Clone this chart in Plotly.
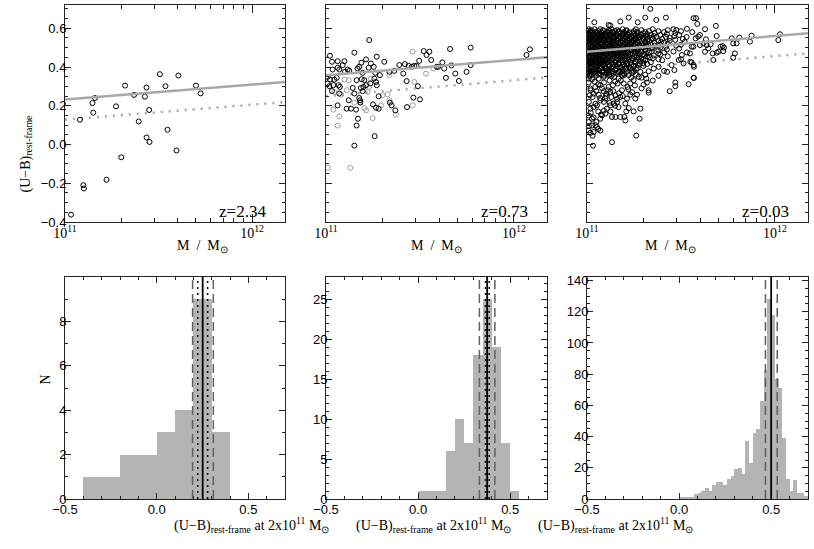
import plotly.graph_objects as go

# ---------------- data ----------------
# top-left panel, z=2.34 : log10(M/Msun), (U-B)
tl_logm = [11.032, 11.080, 11.098, 11.101, 11.147, 11.151, 11.160, 11.222, 11.273, 11.301,
           11.321, 11.369, 11.394, 11.427, 11.436, 11.436, 11.450, 11.452, 11.507, 11.537,
           11.548, 11.596, 11.606, 11.700, 11.725]
tl_ub = [-0.362, 0.128, -0.210, -0.227, 0.214, 0.164, 0.240, -0.182, 0.197, -0.066,
         0.304, 0.256, 0.119, 0.247, 0.294, 0.036, 0.178, 0.013, 0.363, 0.301,
         0.076, -0.031, 0.356, 0.304, 0.264]

# top-middle panel, z=0.73 (black symbols)
tm_logm = [11.230, 11.021, 11.032, 11.062, 11.098, 11.151, 11.270, 11.310, 11.213, 11.188,
           11.177, 11.168, 11.227, 11.254, 11.239, 11.089, 11.062, 11.071, 11.115, 11.124,
           11.101, 11.035, 11.195, 11.262, 11.287, 11.337, 11.363, 11.390, 11.420, 11.440,
           11.456, 11.470, 11.482, 11.411, 11.496, 11.520, 11.535, 11.550, 11.560, 11.009,
           11.021, 11.044, 11.057, 11.009, 11.018, 11.039, 11.067, 11.074, 11.032, 11.071,
           11.142, 11.151, 11.163, 11.190, 11.199, 11.213, 11.236, 11.257, 11.266, 11.270,
           11.204, 11.186, 11.177, 11.181, 11.183, 11.280, 11.195, 11.429, 11.489, 11.465,
           11.500, 11.340, 11.349, 11.369, 11.431, 11.062, 11.110, 11.133, 11.121, 11.160,
           11.250, 11.266, 11.280, 11.170, 11.163, 11.259, 11.151, 11.660, 11.770, 11.619,
           11.589, 11.598, 11.629, 11.668, 11.770, 11.688, 11.748, 11.638, 11.707, 12.067,
           12.085]
tm_ub = [0.539, 0.458, 0.427, 0.430, 0.430, 0.474, 0.453, 0.427, 0.439, 0.422,
         0.401, 0.392, 0.396, 0.401, 0.418, 0.410, 0.396, 0.387, 0.387, 0.380,
         0.375, 0.387, 0.370, 0.370, 0.358, 0.375, 0.380, 0.410, 0.415, 0.406,
         0.401, 0.406, 0.406, 0.366, 0.432, 0.482, 0.462, 0.479, 0.436, 0.349,
         0.335, 0.335, 0.344, 0.315, 0.301, 0.306, 0.306, 0.297, 0.276, 0.263,
         0.292, 0.263, 0.332, 0.337, 0.297, 0.306, 0.315, 0.340, 0.323, 0.306,
         0.332, 0.292, 0.240, 0.228, 0.216, 0.249, 0.275, 0.327, 0.301, 0.242,
         0.233, 0.216, 0.202, 0.176, 0.193, 0.202, 0.185, 0.185, 0.228, 0.180,
         0.207, 0.190, 0.185, 0.133, 0.098, 0.043, -0.006, 0.493, 0.500, 0.424,
         0.401, 0.401, 0.392, 0.408, 0.410, 0.366, 0.375, 0.344, 0.328, 0.462,
         0.491]
# top-middle panel, grey symbols
tm_grey_logm = [11.461, 11.532, 11.571, 11.337, 11.098, 11.121, 11.044, 11.080, 11.110, 11.151,
                11.181, 11.222, 11.230, 11.239, 11.301, 11.328, 11.337, 11.039, 11.071, 11.062,
                11.213, 11.248, 11.372, 11.461, 11.470, 11.009, 11.129, 11.293, 11.204]
tm_grey_ub = [0.479, 0.366, 0.392, 0.358, 0.335, 0.332, 0.271, 0.257, 0.280, 0.216,
              0.219, 0.271, 0.297, 0.340, 0.254, 0.259, 0.228, 0.180, 0.145, 0.098,
              0.176, 0.136, 0.154, 0.202, 0.323, -0.121, -0.121, 0.202, 0.188]

# top-right panel, z=0.03 : sparse points
tr_logm = [11.567, 11.541, 11.470, 11.470, 11.440, 11.328, 11.328, 11.319, 11.301, 11.316,
           11.328, 11.355, 11.381, 11.426, 11.465, 11.488, 11.514, 11.550, 11.567, 11.532,
           11.505, 11.284, 11.275, 11.248, 11.230, 11.230, 11.266, 11.257, 11.284, 11.248,
           11.222, 11.209, 11.199, 11.204, 11.177, 11.151, 11.133, 11.280, 11.262, 11.133,
           11.032, 11.071, 11.053, 11.035, 11.018, 11.009, 11.027, 11.050, 11.071, 11.080,
           11.098, 11.106, 11.124, 11.160, 11.177, 11.213, 11.204, 11.168, 11.142, 11.186,
           11.151, 11.124, 11.098, 11.071, 11.053, 11.035, 11.018, 11.009, 11.027, 11.009,
           11.115, 11.071, 11.044, 11.018, 11.014, 11.035, 11.062, 11.089, 11.103, 11.138,
           11.163, 11.195, 11.216, 11.168, 11.145, 11.115, 11.089, 11.062, 11.027, 11.009,
           11.014, 11.044, 11.080, 11.106, 11.133, 11.168, 11.195, 11.222, 11.248, 11.230,
           11.204,
           11.337, 11.039, 11.222, 11.310, 11.369, 11.420, 11.270, 11.177, 11.115, 11.124,
           11.567, 11.475, 11.532,
           11.580, 11.587, 11.628, 11.686, 11.578, 11.592, 11.601, 11.633, 11.690, 11.770,
           11.810, 11.876, 11.867, 11.778, 11.796, 12.018, 12.027, 11.722, 11.729, 11.711,
           11.628, 11.669, 11.690, 11.699, 11.725, 11.787, 11.778, 11.672, 11.569, 11.569,
           11.557, 11.566, 11.601, 11.619, 11.637, 11.658, 11.645, 11.548, 11.557,
           11.010, 11.040, 11.060, 11.090, 11.120, 11.150, 11.180, 11.020, 11.050, 11.080,
           11.110, 11.140, 11.170, 11.030, 11.070, 11.100, 11.130, 11.160, 11.010, 11.045,
           11.090, 11.120, 11.150, 11.020, 11.060, 11.090, 11.125, 11.035, 11.075, 11.010,
           11.045, 11.060, 11.030, 11.200, 11.235, 11.260, 11.290, 11.255, 11.220, 11.190,
           11.240, 11.290, 11.350, 11.380, 11.310, 11.410, 11.450, 11.500]
tr_ub = [0.344, 0.311, 0.320, 0.301, 0.275, 0.280, 0.268, 0.320, 0.309, 0.340,
         0.378, 0.392, 0.401, 0.375, 0.384, 0.436, 0.418, 0.427, 0.410, 0.475,
         0.462, 0.375, 0.349, 0.332, 0.315, 0.257, 0.257, 0.237, 0.185, 0.171,
         0.188, 0.171, 0.142, 0.124, 0.142, 0.142, 0.142, 0.133, 0.046, 0.012,
         -0.006, 0.072, 0.090, 0.064, 0.060, 0.072, 0.098, 0.116, 0.133, 0.150,
         0.159, 0.185, 0.202, 0.219, 0.245, 0.237, 0.211, 0.193, 0.211, 0.280,
         0.254, 0.271, 0.237, 0.228, 0.202, 0.193, 0.185, 0.150, 0.133, 0.116,
         0.297, 0.306, 0.297, 0.289, 0.254, 0.263, 0.257, 0.275, 0.263, 0.306,
         0.315, 0.315, 0.297, 0.340, 0.349, 0.358, 0.349, 0.340, 0.337, 0.320,
         0.354, 0.366, 0.375, 0.384, 0.378, 0.375, 0.366, 0.358, 0.375, 0.392,
         0.392,
         0.700, 0.631, 0.655, 0.655, 0.643, 0.655, 0.631, 0.635, 0.617, 0.614,
         0.652, 0.591, 0.597,
         0.652, 0.622, 0.595, 0.612, 0.548, 0.557, 0.565, 0.543, 0.560, 0.548,
         0.552, 0.562, 0.531, 0.522, 0.522, 0.539, 0.569, 0.508, 0.500, 0.505,
         0.479, 0.470, 0.474, 0.479, 0.482, 0.470, 0.448, 0.436, 0.401, 0.344,
         0.505, 0.505, 0.513, 0.522, 0.513, 0.517, 0.496, 0.470, 0.424,
         0.340, 0.325, 0.310, 0.320, 0.330, 0.325, 0.330, 0.280, 0.275, 0.290,
         0.280, 0.275, 0.265, 0.245, 0.240, 0.250, 0.245, 0.235, 0.220, 0.210,
         0.220, 0.215, 0.200, 0.165, 0.170, 0.175, 0.170, 0.140, 0.155, 0.095,
         0.100, 0.080, 0.045, 0.360, 0.345, 0.360, 0.345, 0.305, 0.285, 0.250,
         0.270, 0.290, 0.330, 0.355, 0.360, 0.380, 0.410, 0.440]

# top-right panel : the crowded red sequence, row by row
tr_row_ub = [0.595, 0.590, 0.585, 0.580, 0.575, 0.570, 0.565, 0.560, 0.555, 0.550,
             0.545, 0.540, 0.535, 0.530, 0.525, 0.520, 0.515, 0.510, 0.505, 0.500,
             0.495, 0.490, 0.485, 0.480, 0.475, 0.470, 0.465, 0.460, 0.455, 0.450,
             0.445, 0.440, 0.435, 0.430, 0.425, 0.420, 0.415, 0.410, 0.405, 0.400,
             0.395, 0.390, 0.385, 0.380, 0.375, 0.370, 0.365, 0.360, 0.355]
tr_row_logm = [
    [11.01, 11.04, 11.07, 11.13, 11.19, 11.26, 11.35, 11.46],
    [11.02, 11.085, 11.115, 11.16, 11.21, 11.29, 11.43],
    [11.00, 11.03, 11.06, 11.09, 11.12, 11.15, 11.17, 11.21, 11.25, 11.33, 11.38, 11.50],
    [11.015, 11.045, 11.075, 11.105, 11.135, 11.165, 11.195, 11.225, 11.265, 11.31, 11.41, 11.56],
    [11.02, 11.05, 11.08, 11.11, 11.14, 11.18, 11.20, 11.24, 11.27, 11.30, 11.36, 11.47],
    [11.005, 11.035, 11.065, 11.095, 11.125, 11.155, 11.215, 11.25, 11.285, 11.32, 11.425],
    [11.00, 11.03, 11.06, 11.09, 11.12, 11.16, 11.19, 11.22, 11.26, 11.29, 11.34, 11.39, 11.49],
    [11.02, 11.05, 11.08, 11.105, 11.14, 11.175, 11.205, 11.235, 11.27, 11.31, 11.355, 11.465],
    [11.01, 11.04, 11.07, 11.10, 11.13, 11.15, 11.18, 11.21, 11.24, 11.28, 11.32, 11.37, 11.42, 11.53],
    [11.005, 11.03, 11.06, 11.09, 11.12, 11.165, 11.195, 11.225, 11.26, 11.30, 11.345, 11.44],
    [11.00, 11.02, 11.05, 11.08, 11.11, 11.14, 11.17, 11.20, 11.23, 11.26, 11.30, 11.35, 11.40, 11.51],
    [11.015, 11.04, 11.07, 11.095, 11.13, 11.155, 11.185, 11.215, 11.245, 11.275, 11.32, 11.47],
    [11.01, 11.03, 11.06, 11.09, 11.12, 11.16, 11.19, 11.22, 11.25, 11.29, 11.33, 11.38, 11.44],
    [11.005, 11.025, 11.055, 11.08, 11.11, 11.14, 11.175, 11.205, 11.235, 11.265, 11.31, 11.395, 11.52],
    [11.00, 11.04, 11.07, 11.10, 11.13, 11.15, 11.18, 11.21, 11.24, 11.27, 11.31, 11.36, 11.41],
    [11.015, 11.045, 11.075, 11.095, 11.125, 11.165, 11.195, 11.225, 11.255, 11.29, 11.325, 11.43],
    [11.02, 11.05, 11.08, 11.11, 11.14, 11.17, 11.20, 11.23, 11.26, 11.30, 11.34, 11.39, 11.50],
    [11.005, 11.03, 11.06, 11.09, 11.12, 11.15, 11.185, 11.215, 11.245, 11.28, 11.315, 11.36, 11.475],
    [11.00, 11.03, 11.06, 11.09, 11.12, 11.16, 11.19, 11.22, 11.28, 11.32, 11.42],
    [11.02, 11.045, 11.075, 11.105, 11.135, 11.17, 11.205, 11.235, 11.265, 11.30, 11.345, 11.39],
    [11.01, 11.04, 11.07, 11.10, 11.13, 11.15, 11.18, 11.21, 11.25, 11.29, 11.35, 11.49],
    [11.005, 11.03, 11.055, 11.085, 11.115, 11.145, 11.175, 11.195, 11.23, 11.265, 11.31, 11.425],
    [11.00, 11.02, 11.05, 11.08, 11.11, 11.14, 11.17, 11.20, 11.24, 11.27, 11.31, 11.38],
    [11.015, 11.04, 11.07, 11.095, 11.125, 11.155, 11.185, 11.215, 11.255, 11.29, 11.345, 11.46],
    [11.01, 11.03, 11.06, 11.09, 11.12, 11.16, 11.19, 11.22, 11.26, 11.33, 11.41],
    [11.005, 11.025, 11.05, 11.08, 11.105, 11.14, 11.17, 11.205, 11.245, 11.27, 11.315, 11.38],
    [11.00, 11.04, 11.07, 11.10, 11.13, 11.15, 11.18, 11.23, 11.28, 11.30, 11.39],
    [11.015, 11.045, 11.065, 11.095, 11.125, 11.16, 11.19, 11.215, 11.265, 11.305, 11.355],
    [11.02, 11.05, 11.08, 11.11, 11.14, 11.17, 11.20, 11.25, 11.32, 11.43],
    [11.005, 11.035, 11.055, 11.085, 11.115, 11.145, 11.185, 11.225, 11.275, 11.335],
    [11.00, 11.03, 11.06, 11.09, 11.12, 11.16, 11.21, 11.24, 11.29, 11.35],
    [11.02, 11.045, 11.075, 11.105, 11.135, 11.165, 11.195, 11.245, 11.30, 11.38],
    [11.01, 11.04, 11.07, 11.10, 11.13, 11.18, 11.22, 11.27, 11.31, 11.40],
    [11.005, 11.03, 11.06, 11.09, 11.12, 11.155, 11.205, 11.255, 11.285],
    [11.00, 11.02, 11.05, 11.08, 11.11, 11.15, 11.19, 11.23, 11.26, 11.34],
    [11.015, 11.045, 11.07, 11.10, 11.13, 11.17, 11.215, 11.30],
    [11.01, 11.03, 11.06, 11.09, 11.14, 11.17, 11.21, 11.28, 11.32],
    [11.005, 11.025, 11.055, 11.085, 11.115, 11.15, 11.19, 11.235, 11.27],
    [11.00, 11.04, 11.07, 11.12, 11.16, 11.20, 11.25, 11.30],
    [11.02, 11.05, 11.095, 11.14, 11.18, 11.225],
    [11.02, 11.05, 11.08, 11.10, 11.13, 11.18, 11.23, 11.27],
    [11.01, 11.035, 11.07, 11.12, 11.155, 11.21, 11.26],
    [11.00, 11.03, 11.06, 11.11, 11.15, 11.19, 11.24],
    [11.02, 11.05, 11.09, 11.135, 11.175],
    [11.01, 11.04, 11.08, 11.12, 11.17, 11.21],
    [11.005, 11.035, 11.065, 11.115, 11.16, 11.24],
    [11.00, 11.02, 11.06, 11.10, 11.14],
    [11.025, 11.075, 11.12, 11.185],
    [11.01, 11.05, 11.09, 11.13, 11.19],
]

# fitted colour-mass relations (values at the two ends of the mass axis)
fit_logm = [11.0, 12.176]
fit_solid = [[0.232, 0.323], [0.358, 0.450], [0.479, 0.574]]
fit_dotted = [[0.128, 0.219], [0.250, 0.346], [0.378, 0.470]]
z_labels = ["z=2.34", "z=0.73", "z=0.03"]

# histograms of (U-B) at 2x10^11 Msun
bl_edges = [-0.4, -0.2, 0.0, 0.1, 0.2, 0.3, 0.4]
bl_counts = [1, 2, 3, 4, 9, 3]
bm_edges = [0.0, 0.15, 0.20, 0.25, 0.30, 0.35, 0.40, 0.45, 0.50, 0.55]
bm_counts = [1, 6, 10, 7, 18, 25, 19, 7, 1]
br_edges = [0.00, 0.02, 0.04, 0.06, 0.08, 0.10, 0.12, 0.14, 0.16, 0.18, 0.20, 0.22,
            0.24, 0.26, 0.28, 0.30, 0.32, 0.34, 0.36, 0.38, 0.40, 0.42, 0.44, 0.46,
            0.48, 0.50, 0.52, 0.54, 0.56, 0.58, 0.60, 0.62, 0.64, 0.66, 0.68, 0.70]
br_counts = [1, 1, 1, 1, 3, 4, 5, 7, 5, 9, 11, 11,
             9, 13, 15, 19, 20, 16, 37, 23, 42, 45, 63, 83,
             128, 118, 77, 71, 39, 13, 5, 12, 4, 4, 2]
hist_mean = [0.251, 0.375, 0.500]
hist_err = [[0.224, 0.278], [0.366, 0.386], [0.498, 0.502]]
hist_scatter = [[0.196, 0.309], [0.333, 0.417], [0.469, 0.533]]
hist_ymax = [10.0, 27.8, 142.3]
hist_yticks = [[0, 2, 4, 6, 8], [0, 5, 10, 15, 20, 25], [0, 20, 40, 60, 80, 100, 120, 140]]
hist_yminor = [1, 1, 5]
mass_ticks = [1e11, 1e12]
mass_ticktext = ["10<sup>11</sup>", "10<sup>12</sup>"]
mass_minor = [2e11, 3e11, 4e11, 5e11, 6e11, 7e11, 8e11, 9e11]

# ---------------- layout geometry (page pixels) ----------------
W, H = 814, 549
cols = [(65, 285), (326, 547), (587, 808)]
top_row = (5, 222)
bot_row = (277, 499)
SANS = "Liberation Sans"
SERIF = "Liberation Serif"
GREY_BAR = "#b4b4b4"
GREY_LINE = "#a8a8a8"
AXIS_COLOR = "#222222"


def pxx(x):
    return x / W


def pyy(y):
    return 1 - y / H


fig = go.Figure()

axis_common = dict(showline=True, linecolor=AXIS_COLOR, linewidth=1, mirror="allticks",
                   ticks="inside", ticklen=6, tickwidth=1, tickcolor=AXIS_COLOR,
                   showgrid=False, zeroline=False, fixedrange=True, automargin=False)

layout = dict(width=W, height=H, margin=dict(l=0, r=0, t=0, b=0, autoexpand=False),
              paper_bgcolor="white", plot_bgcolor="white", showlegend=False,
              barmode="overlay", bargap=0, hovermode=False)

tops = [(tl_logm, tl_ub), (tm_logm, tm_ub), (None, None)]
for i in range(3):
    n = i + 1
    xa = "x" if n == 1 else f"x{n}"
    ya = "y" if n == 1 else f"y{n}"
    layout["xaxis" if n == 1 else f"xaxis{n}"] = dict(
        axis_common, type="log", domain=[pxx(cols[i][0]), pxx(cols[i][1])],
        range=fit_logm, anchor=ya, tickmode="array", tickvals=mass_ticks,
        ticktext=mass_ticktext, ticklen=8, ticklabelstandoff=-2,
        tickfont=dict(family=SERIF, size=14, color="black"),
        minor=dict(tickmode="array", tickvals=mass_minor, ticks="inside", ticklen=4,
                   tickcolor=AXIS_COLOR))
    layout["yaxis" if n == 1 else f"yaxis{n}"] = dict(
        axis_common, domain=[pyy(top_row[1]), pyy(top_row[0])], range=[-0.4, 0.72],
        anchor=xa, tickmode="array", tickvals=[-0.4, -0.2, 0.0, 0.2, 0.4, 0.6],
        tickformat=".1f", showticklabels=(n == 1), ticklabelstandoff=-5,
        tickfont=dict(family=SANS, size=13, color="black"),
        minor=dict(dtick=0.05, tick0=0, ticks="inside", ticklen=3, tickcolor=AXIS_COLOR))

    fig.add_trace(go.Scatter(x=[10 ** v for v in fit_logm], y=fit_dotted[i], mode="lines",
                             line=dict(color=GREY_LINE, width=2.5, dash="2px,6px"),
                             xaxis=xa, yaxis=ya, hoverinfo="skip"))
    if i == 1:
        fig.add_trace(go.Scatter(x=[10 ** v for v in tm_grey_logm], y=tm_grey_ub, mode="markers",
                                 marker=dict(symbol="circle-open", size=5, color="#a0a0a0",
                                             line=dict(width=1)),
                                 xaxis=xa, yaxis=ya))
    if i < 2:
        lm, ub = tops[i]
    else:
        lm = list(tr_logm)
        ub = list(tr_ub)
        for v, row in zip(tr_row_ub, tr_row_logm):
            lm += row
            ub += [v] * len(row)
    fig.add_trace(go.Scatter(x=[10 ** v for v in lm], y=ub, mode="markers",
                             marker=dict(symbol="circle-open", size=5, color="black",
                                         line=dict(width=1)),
                             xaxis=xa, yaxis=ya))
    fig.add_trace(go.Scatter(x=[10 ** v for v in fit_logm], y=fit_solid[i], mode="lines",
                             line=dict(color=GREY_LINE, width=2.5),
                             xaxis=xa, yaxis=ya, hoverinfo="skip"))

hists = [(bl_edges, bl_counts), (bm_edges, bm_counts), (br_edges, br_counts)]
shapes = []
for i in range(3):
    n = i + 4
    xa, ya = f"x{n}", f"y{n}"
    layout[f"xaxis{n}"] = dict(
        axis_common, domain=[pxx(cols[i][0]), pxx(cols[i][1])], range=[-0.5, 0.7],
        anchor=ya, tickmode="array", tickvals=[-0.5, 0.0, 0.5], tickformat=".1f",
        ticklabelstandoff=-2,
        tickfont=dict(family=SANS, size=13, color="black"),
        minor=dict(dtick=0.1, tick0=0, ticks="inside", ticklen=3, tickcolor=AXIS_COLOR))
    layout[f"yaxis{n}"] = dict(
        axis_common, domain=[pyy(bot_row[1]), pyy(bot_row[0])], range=[0, hist_ymax[i]],
        anchor=xa, tickmode="array", tickvals=hist_yticks[i], ticklabelstandoff=-5,
        tickfont=dict(family=SANS, size=13, color="black"),
        minor=dict(dtick=hist_yminor[i], tick0=0, ticks="inside", ticklen=3,
                   tickcolor=AXIS_COLOR))
    edges, counts = hists[i]
    centers = [(edges[k] + edges[k + 1]) / 2 for k in range(len(counts))]
    widths = [edges[k + 1] - edges[k] for k in range(len(counts))]
    fig.add_trace(go.Bar(x=centers, y=counts, width=widths,
                         marker=dict(color=GREY_BAR, line=dict(width=0)),
                         xaxis=xa, yaxis=ya))
    for xv in hist_scatter[i]:
        shapes.append(dict(type="line", xref=xa, yref=f"{ya} domain", x0=xv, x1=xv, y0=0, y1=1,
                           line=dict(color="#606060", width=1.5, dash="9px,5px")))
    if i < 2:
        for xv in hist_err[i]:
            shapes.append(dict(type="line", xref=xa, yref=f"{ya} domain", x0=xv, x1=xv, y0=0, y1=1,
                               line=dict(color="black", width=1.5, dash="2px,4px")))
    shapes.append(dict(type="line", xref=xa, yref=f"{ya} domain", x0=hist_mean[i], x1=hist_mean[i],
                       y0=0, y1=1, line=dict(color="black", width=1.8)))

layout["shapes"] = shapes

ann = []
for i in range(3):
    cx = (cols[i][0] + cols[i][1]) / 2
    ann.append(dict(text="M  /  M<sub>⊙</sub>", x=pxx(cx), y=pyy(246), xref="paper", yref="paper",
                    showarrow=False, font=dict(family=SERIF, size=14, color="black")))
    ann.append(dict(text=z_labels[i], x=pxx(cols[i][1] - 17), y=pyy(211), xref="paper", yref="paper",
                    xanchor="right", showarrow=False, font=dict(family=SERIF, size=17, color="black")))
    ann.append(dict(text="(U−B)<sub>rest-frame</sub> at 2x10<sup>11</sup> M<sub>⊙</sub>",
                    x=pxx(cx - 3), y=pyy(537), xref="paper", yref="paper", showarrow=False,
                    font=dict(family=SERIF, size=14, color="black")))
ann.append(dict(text="(U−B)<sub>rest-frame</sub>", x=pxx(15), y=pyy(113), xref="paper", yref="paper",
                textangle=-90, showarrow=False, font=dict(family=SERIF, size=14, color="black")))
ann.append(dict(text="N", x=pxx(35), y=pyy(387), xref="paper", yref="paper",
                textangle=-90, showarrow=False, font=dict(family=SERIF, size=14, color="black")))
layout["annotations"] = ann

fig.update_layout(**layout)
# the page's default 8px body margin would shift the figure; remove it
fig.write_html("out.html", config={"displayModeBar": False, "staticPlot": True},
               post_script="document.body.style.margin='0';document.body.style.overflow='hidden';")
